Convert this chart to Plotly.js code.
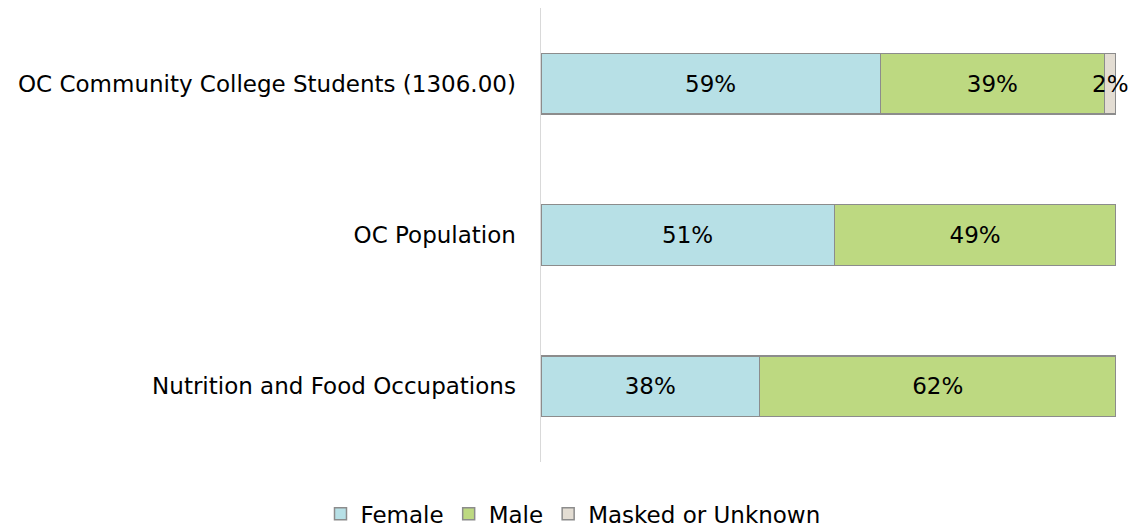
<!DOCTYPE html>
<html><head><meta charset="utf-8">
<script src="https://cdn.plot.ly/plotly-3.0.1.min.js"></script>
<style>html,body{margin:0;padding:0;background:#fff}#chart{width:1133px;height:527px}</style>
</head><body><div id="chart"></div>
<script>
const categories = ["OC Community College Students (1306.00)", "OC Population", "Nutrition and Food Occupations"];
const female = [59, 51, 38];
const male = [39, 49, 62];
const masked = [2, null, null];
const seriesNames = ["Female", "Male", "Masked or Unknown"];
const colors = ["#B7E0E6", "#BDD981", "#E3DDD3"];

const font = "'DejaVu Sans', sans-serif";
function mk(vals, name, color) {
  return {
    type: 'bar', orientation: 'h', y: categories, x: vals, name: name,
    marker: {color: color, line: {color: '#8C8C8C', width: 1.5}},
    text: vals.map(v => v == null ? '' : v + '%'),
    textposition: 'inside', insidetextanchor: 'middle', textangle: 0, constraintext: 'none',
    cliponaxis: false,
    textfont: {family: font, size: 23, color: '#000'},
    hoverinfo: 'none'
  };
}
const data = [mk(female, seriesNames[0], colors[0]), mk(male, seriesNames[1], colors[1]), mk(masked, seriesNames[2], colors[2])];
const layout = {
  width: 1133, height: 527,
  margin: {l: 541, r: 17, t: 8, b: 65},
  barmode: 'stack', bargap: 0.6,
  paper_bgcolor: '#fff', plot_bgcolor: '#fff',
  font: {family: font, size: 23, color: '#000'},
  xaxis: {range: [0, 100], visible: false, fixedrange: true},
  yaxis: {autorange: 'reversed', showline: true, linecolor: '#D9D9D9', linewidth: 1.5, ticks: '', showgrid: false, zeroline: false, ticklabelstandoff: 19, tickfont: {family: font, size: 23, color: '#000'}},
  showlegend: true,
  legend: {orientation: 'h', traceorder: 'normal', x: 0, xref: 'paper', xanchor: 'center', y: 0.025, yref: 'container', yanchor: 'middle', font: {family: font, size: 23, color: '#000'}}
};
layout.legend.x = (573 - 541) / 575;
Plotly.newPlot('chart', data, layout, {displayModeBar: false, staticPlot: true});
</script></body></html>
